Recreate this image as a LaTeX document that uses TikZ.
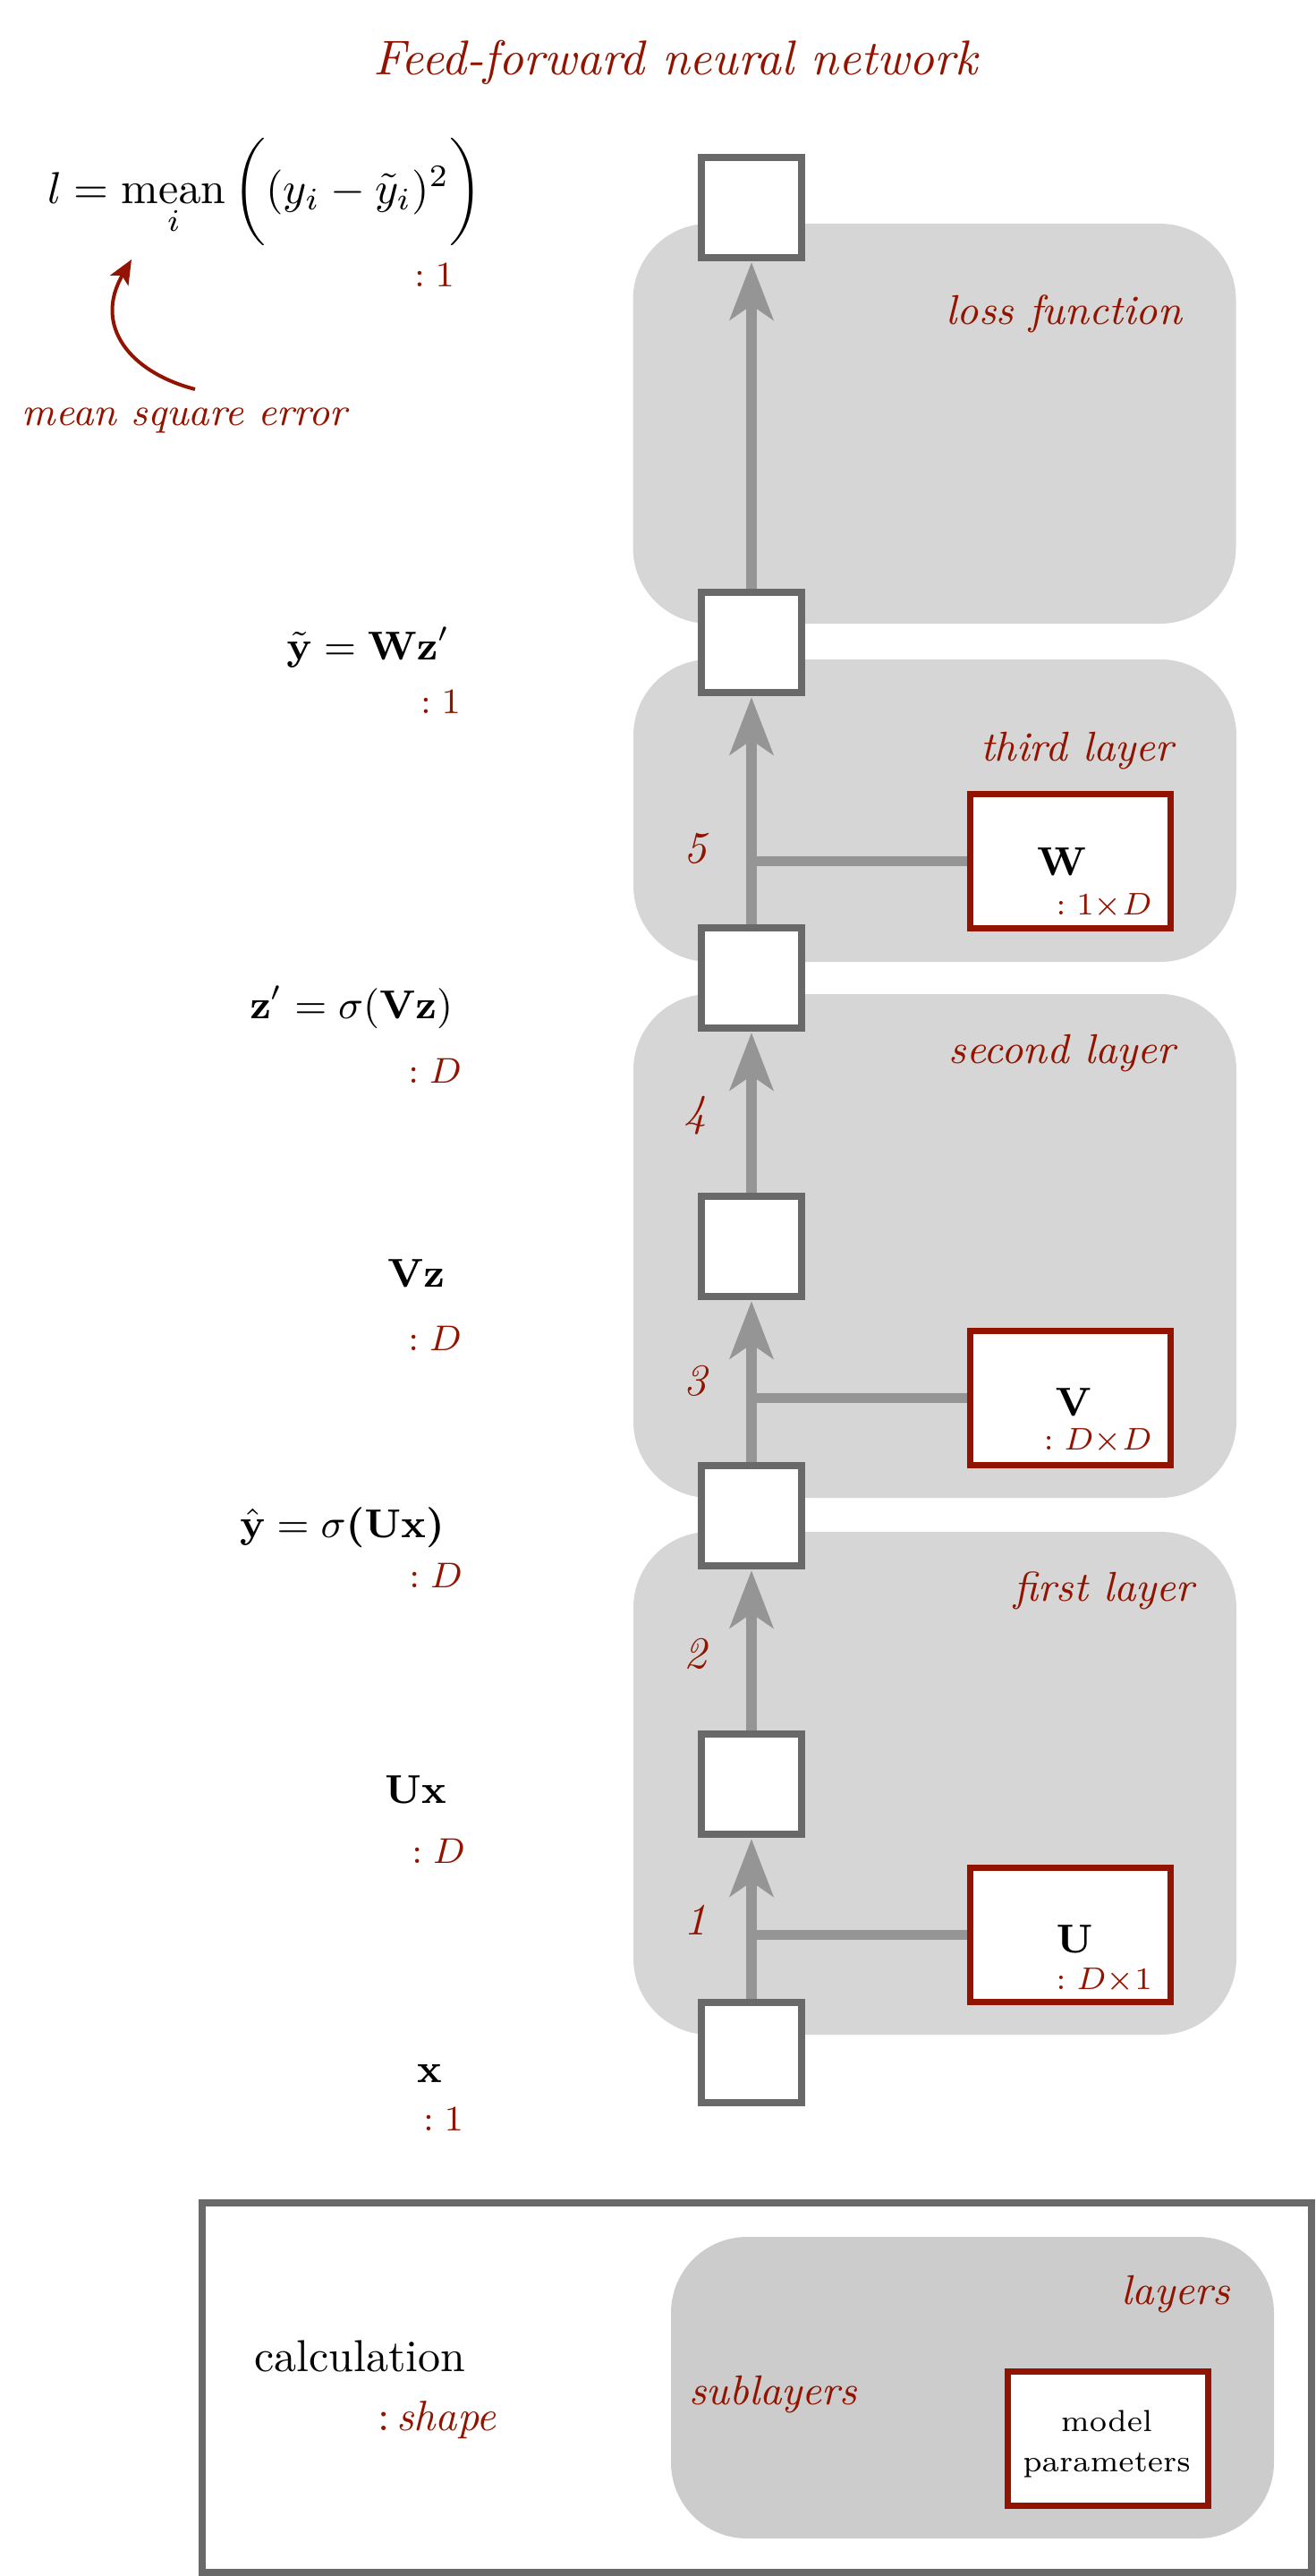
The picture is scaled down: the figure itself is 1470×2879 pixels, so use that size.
\documentclass[tikz,border=0pt]{standalone}
\usepackage{amsmath}
\usetikzlibrary{arrows.meta}
\definecolor{dred}{RGB}{146,20,0}
\definecolor{boxgray}{RGB}{105,105,105}
\definecolor{linegray}{RGB}{149,149,149}
\definecolor{layergray}{RGB}{214,214,214}
\definecolor{legendgray}{RGB}{204,204,204}
\pgfdeclarelayer{bg}
\pgfdeclarelayer{mid}
\pgfsetlayers{bg,mid,main}
\begin{document}
\begin{tikzpicture}[x=0.2pt, y=-0.2pt,
  calcbox/.style={draw=boxgray, line width=1.6pt, fill=white, minimum width=22.4pt, minimum height=22.4pt, inner sep=0pt, outer sep=0pt},
  parambox/.style={draw=dred, line width=1.4pt, fill=white, minimum width=44.8pt, minimum height=30pt, inner sep=0pt, outer sep=0pt},
  layerbox/.style={fill=layergray, rounded corners=17pt, minimum width=134.8pt, inner sep=0pt, outer sep=0pt},
  flow/.style={draw=linegray, line width=2.4pt, -{Stealth[length=12.8pt, width=9.6pt, inset=3.2pt]}, shorten >=1pt},
  link/.style={draw=linegray, line width=2.2pt},
  txt/.style={inner sep=0pt, outer sep=0pt},
  redlbl/.style={txt, text=dred, font=\fontsize{9.3}{11}\selectfont\itshape},
  expr/.style={txt, font=\fontsize{9}{10}\selectfont, anchor=base east},
  shp/.style={txt, text=dred, font=\fontsize{8}{10}\selectfont, anchor=base east},
  numlbl/.style={txt, text=dred, font=\fontsize{10}{12}\selectfont\itshape},
  plbl/.style={txt, anchor=base, font=\fontsize{9}{10}\selectfont},
  pdim/.style={txt, text=dred, anchor=base east, font=\fontsize{7}{9}\selectfont},
  redarrow/.style={draw=dred, line width=0.8pt, -{Stealth[length=5.4pt, width=4.6pt, inset=1.2pt]}}
  ]
\useasboundingbox (0,0) rectangle (1470,2879);

% background layers
\begin{pgfonlayer}{bg}
\node[layerbox, minimum height=89.4pt] (Lloss) at (1044.5,473.5) {};
\node[layerbox, minimum height=67.6pt] (L3) at (1045,906) {};
\node[layerbox, minimum height=112.6pt] (L2) at (1045,1392.5) {};
\node[layerbox, minimum height=112.4pt] (L1) at (1045,1993) {};
\node[draw=boxgray, line width=1.6pt, minimum width=248pt, minimum height=82.6pt, inner sep=0pt, outer sep=0pt] (legend) at (846,2668.5) {};
\node[layerbox, fill=legendgray, minimum height=67.4pt] (Lleg) at (1087,2668.5) {};
\end{pgfonlayer}

% title
\node[txt, text=dred, anchor=base, font=\fontsize{10.9}{13}\selectfont\itshape] (title) at (755,83) {Feed-forward neural network};

% calculation boxes
\node[calcbox] (nl) at (840,232) {};
\node[calcbox] (nyt) at (840,718) {};
\node[calcbox] (nzp) at (840,1093) {};
\node[calcbox] (nvz) at (840,1393) {};
\node[calcbox] (nyh) at (840,1694) {};
\node[calcbox] (nux) at (840,1994) {};
\node[calcbox] (nx) at (840,2294) {};

% parameter boxes
\node[parambox] (W) at (1196,962) {};
\node[parambox] (V) at (1196,1562) {};
\node[parambox] (U) at (1196,2162) {};
\node[parambox] (mp) at (1238.5,2725.5) {};

% connectors
\begin{pgfonlayer}{mid}
\draw[link] (U.west) -- (U.west -| nx.center);
\draw[link] (V.west) -- (V.west -| nyh.center);
\draw[link] (W.west) -- (W.west -| nzp.center);
\draw[flow] (nx) -- (nux);
\draw[flow] (nux) -- (nyh);
\draw[flow] (nyh) -- (nvz);
\draw[flow] (nvz) -- (nzp);
\draw[flow] (nzp) -- (nyt);
\draw[flow] (nyt) -- (nl);
\end{pgfonlayer}

% step numbers
\node[numlbl] (s5) at (777,948) {5};
\node[numlbl] (s4) at (777,1247) {4};
\node[numlbl] (s3) at (777,1543) {3};
\node[numlbl] (s2) at (777,1848) {2};
\node[numlbl] (s1) at (777,2146) {1};

% layer labels
\node[redlbl, anchor=base east] (tloss) at (1321,362) {loss function};
\node[redlbl, anchor=base east] (t3) at (1312,850) {third layer};
\node[redlbl, anchor=base east] (t2) at (1314,1188) {second layer};
\node[redlbl, anchor=base east] (t1) at (1335,1789) {first layer};

% parameter labels
\node[plbl] (lW) at (1187,978) {$\mathbf{W}$};
\node[pdim] (dW) at (1288,1022) {$:1{\times}D$};
\node[plbl] (lV) at (1200,1582) {$\mathbf{V}$};
\node[pdim] (dV) at (1288,1620) {$:D{\times}D$};
\node[plbl] (lU) at (1201,2182) {$\mathbf{U}$};
\node[pdim] (dU) at (1288,2223) {$:D{\times}1$};

% expressions on the left
\node[txt, anchor=base east, font=\fontsize{10.4}{12}\selectfont] (eL) at (539,227) {$l = \mathop{\mathrm{mean}}\limits_i \bigg((y_i - \tilde{y}_i)^2\bigg)$};
\node[shp] (sL) at (508,320) {$:1$};
\node[expr] (eYt) at (503,737) {$\tilde{\mathbf{y}} = \mathbf{W}\mathbf{z}'$};
\node[shp] (sYt) at (515,797) {$:1$};
\node[expr] (eZp) at (506,1138) {$\mathbf{z}' = \sigma(\mathbf{Vz})$};
\node[shp] (sZp) at (516,1210) {$:D$};
\node[expr] (eVz) at (497,1438) {$\mathbf{Vz}$};
\node[shp] (sVz) at (516,1509) {$:D$};
\node[expr] (eYh) at (497,1718) {$\hat{\mathbf{y}} = \sigma\boldsymbol{(}\mathbf{Ux}\boldsymbol{)}$};
\node[shp] (sYh) at (517,1774) {$:D$};
\node[expr] (eUx) at (499,2015) {$\mathbf{Ux}$};
\node[shp] (sUx) at (520,2082) {$:D$};
\node[expr] (eX) at (494,2327) {$\mathbf{x}$};
\node[shp] (sX) at (518,2381) {$:1$};

% mean square error annotation
\node[redlbl, anchor=base west, font=\fontsize{8.9}{11}\selectfont\itshape] (mse) at (25,475) {mean square error};
\coordinate (mseS) at (218,435);
\coordinate (mseE) at (147,290);
\draw[redarrow] (mseS) .. controls (145,416) and (104,364) .. (mseE);

% legend texts
\node[txt, anchor=base west, font=\fontsize{10}{12}\selectfont] (lcalc) at (284,2650) {calculation};
\node[txt, anchor=base west, text=dred, font=\fontsize{9.5}{12}\selectfont] (lshape) at (422,2716) {:\,\textit{shape}};
\node[redlbl, anchor=base east] (llayers) at (1375,2575) {layers};
\node[redlbl, anchor=base west] (lsub) at (770,2687) {sublayers};
\node[txt, anchor=base, font=\fontsize{6.8}{9}\selectfont] (lmodel) at (1237,2717) {model};
\node[txt, anchor=base, font=\fontsize{6.8}{9}\selectfont] (lparams) at (1237,2762) {parameters};
\end{tikzpicture}
\end{document}
